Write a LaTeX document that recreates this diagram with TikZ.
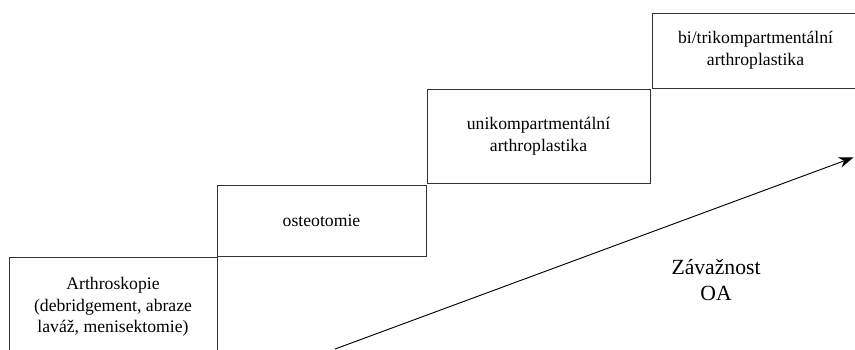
\documentclass[tikz,border=0pt]{standalone}
\usepackage{fontspec}
\setmainfont{Liberation Serif}
\newfontfamily\timesfont{Liberation Serif}
\usetikzlibrary{arrows.meta}
\begin{document}
\begin{tikzpicture}[>={Stealth[length=11pt,width=8pt]}]
		\tikzstyle{stage}=[draw=black!80,line width=0.6pt,shape=rectangle,inner sep=0pt,align=center,font=\timesfont\fontsize{13.3}{16.2}\selectfont]
 
		\useasboundingbox (0,0) rectangle (22.62,9.234);
		\clip (0,0) rectangle (22.62,9.234);
 
		\node[stage,minimum width=5.503cm,minimum height=2.646cm](arthro) at (2.990,1.111){Arthroskopie\\(debridgement, abraze\\laváž, menisektomie)};
		\node[stage,minimum width=5.530cm,minimum height=1.878cm](osteo) at (8.506,3.400){osteotomie};
		\node[stage,minimum width=5.900cm,minimum height=2.487cm](uni) at (14.248,5.636){unikompartmentální\\arthroplastika};
		\node[stage,minimum width=5.477cm,minimum height=1.984cm](bitri) at (19.989,7.898){bi/trikompartmentální\\arthroplastika};
 
		\coordinate (low) at (8.864,0);
		\coordinate (high) at (22.58,5.07);
		\draw[->,line width=0.7pt] (low) -- (high);
		\node[align=center,font=\timesfont\fontsize{16.3}{19.6}\selectfont](oa) at (18.944,1.826){Závažnost\\OA};
	\end{tikzpicture}
\end{document}
